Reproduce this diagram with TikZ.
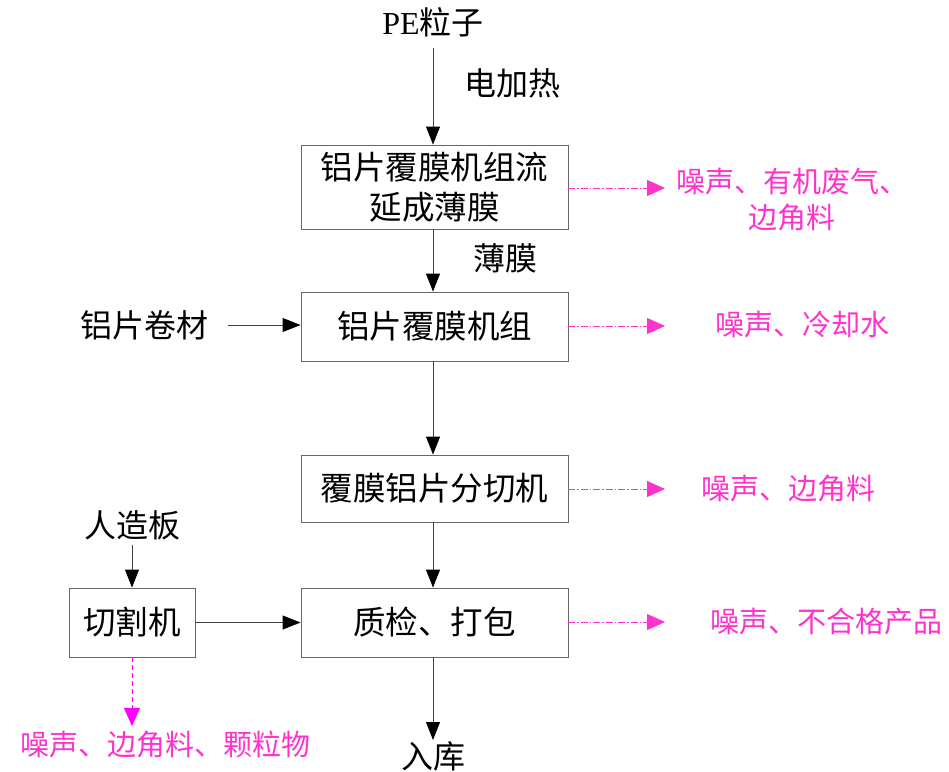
\documentclass[tikz,border=0pt]{standalone}
\usepackage{fontspec}
\setmainfont{Liberation Serif}
\newfontfamily\cjk{Noto Sans CJK SC}
\usetikzlibrary{arrows.meta}
\definecolor{pinkc}{RGB}{255,51,204}
\definecolor{magc}{RGB}{255,0,255}
\tikzset{
  box/.style={draw=black!60, line width=0.9pt, minimum width=267pt, inner sep=0pt, font=\cjk\fontsize{32.5}{40}\selectfont, align=center},
  lbl/.style={inner sep=0pt, font=\cjk\fontsize{32}{36}\selectfont},
  plbl/.style={inner sep=0pt, text=pinkc, font=\cjk\fontsize{29}{36}\selectfont, align=center},
  arr/.style={draw=black!75, line width=0.9pt, -{Triangle[length=18pt,width=14pt,color=black]}},
  parr/.style={draw=pinkc, line width=0.8pt, dash pattern=on 7pt off 2pt on 1.5pt off 2pt, -{Triangle[length=18pt,width=16pt,color=pinkc]}},
  marr/.style={draw=magc, line width=0.8pt, dash pattern=on 5pt off 3pt, -{Triangle[length=18pt,width=16pt,color=magc]}}
}
\begin{document}
\begin{tikzpicture}[x=1pt,y=-1pt]
\useasboundingbox (0,0) rectangle (949,771);
% boxes
\node[box, minimum height=84pt] (b1) at (434.5,187) {铝片覆膜机组流\\延成薄膜};
\node[box, minimum height=69pt] (b2) at (434.5,326.5) {铝片覆膜机组};
\node[box, minimum height=67pt] (b3) at (434.5,488.5) {覆膜铝片分切机};
\node[box, minimum height=69pt] (b4) at (434.5,622.5) {质检、打包};
\node[box, minimum height=69pt, minimum width=126pt] (b5) at (132,622.5) {切割机};
% labels
\node[lbl] (pe) at (433,22) {{\rmfamily PE}粒子};
\node[lbl] (heat) at (512,83) {电加热};
\node[lbl] (film) at (505,258) {薄膜};
\node[lbl] (al) at (144,325) {铝片卷材};
\node[lbl] (board) at (132,525) {人造板};
\node[lbl] (store) at (433,756) {入库};
% pink outputs
\node[plbl] (o1) at (792,200) {噪声、有机废气、\\边角料};
\node[plbl] (o2) at (802,325) {噪声、冷却水};
\node[plbl] (o3) at (788,489) {噪声、边角料};
\node[plbl] (o4) at (826,622) {噪声、不合格产品};
\node[plbl] (o5) at (165,745) {噪声、边角料、颗粒物};
% coordinates
\coordinate (s0) at (433,48);
\coordinate (e1) at (665,188);
\coordinate (e2) at (665,326);
\coordinate (e3) at (665,489);
\coordinate (e4) at (665,622);
\coordinate (a0) at (228,325);
\coordinate (c0) at (132,545);
\coordinate (d5) at (132,726);
\coordinate (st) at (433,740);
% main flow
\draw[arr] (s0) -- (s0 |- b1.north);
\draw[arr] (s0 |- b1.south) -- (s0 |- b2.north);
\draw[arr] (s0 |- b2.south) -- (s0 |- b3.north);
\draw[arr] (s0 |- b3.south) -- (s0 |- b4.north);
\draw[arr] (s0 |- b4.south) -- (st);
\draw[arr] (a0) -- (a0 -| b2.west);
\draw[arr] (c0) -- (b5.north);
\draw[arr] (b5.east) -- (b4.west);
% pink outputs
\draw[parr] (b1.east |- e1) -- (e1);
\draw[parr] (b2.east |- e2) -- (e2);
\draw[parr] (b3.east |- e3) -- (e3);
\draw[parr] (b4.east |- e4) -- (e4);
\draw[marr] (b5.south) -- (d5);
\end{tikzpicture}
\end{document}
